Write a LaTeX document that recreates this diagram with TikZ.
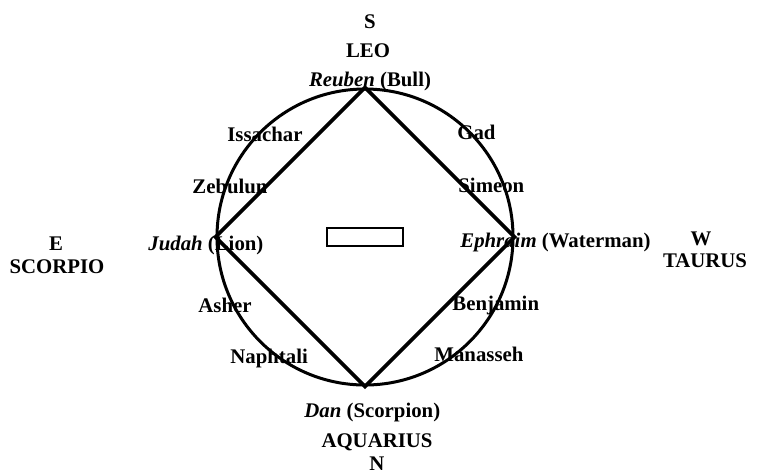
\documentclass[tikz,border=0pt]{standalone}
\usepackage{fontspec}
\setmainfont{Liberation Serif}
\begin{document}
\begin{tikzpicture}[x=0.5pt, y=-0.5pt,
      font=\bfseries\fontsize{10.4}{12}\selectfont,
      tribe/.style={inner sep=0pt, anchor=base west},
      point/.style={inner sep=0pt, anchor=base},
      side/.style={line width=1.9pt, line join=miter}
    ]
    \useasboundingbox (0,0) rectangle (758,472);

    \node[draw, circle, line width=1.5pt, minimum size=148pt, inner sep=0pt]
      (ring) at (365,237) {};
    \node[draw, line width=1.2pt, minimum width=38pt, minimum height=9pt,
          inner sep=0pt] (altar) at (365,237) {};

    \draw[side] (ring.north) -- (ring.east) -- (ring.south) -- (ring.west) -- cycle;

    % quarters
    \node[point] (south) at (370,28) {S};
    \node[point] (leo) at (368,57) {LEO};
    \node[point] (reuben) at (370,86) {\textit{Reuben} (Bull)};

    \node[point] (east) at (56,250) {E};
    \node[point] (scorpio) at (57,273) {SCORPIO};
    \node[tribe] (judah) at (148,250) {\textit{Judah} (Lion)};

    \node[point] (west) at (701,245) {W};
    \node[point] (taurus) at (705,267) {TAURUS};
    \node[tribe] (ephraim) at (460,247) {\textit{Ephraim} (Waterman)};

    \node[tribe] (dan) at (304,417) {\textit{Dan} (Scorpion)};
    \node[point] (aquarius) at (377,447) {AQUARIUS};
    \node[point] (north) at (377,470) {N};

    % tribes between
    \node[tribe] (issachar) at (227,141) {Issachar};
    \node[tribe] (zebulun) at (192,193) {Zebulun};
    \node[tribe] (gad) at (457,139) {Gad};
    \node[tribe] (simeon) at (458,192) {Simeon};
    \node[tribe] (asher) at (198,312) {Asher};
    \node[tribe] (naphtali) at (230,363) {Naphtali};
    \node[tribe] (benjamin) at (452,310) {Benjamin};
    \node[tribe] (manasseh) at (434,361) {Manasseh};
  \end{tikzpicture}
\end{document}
